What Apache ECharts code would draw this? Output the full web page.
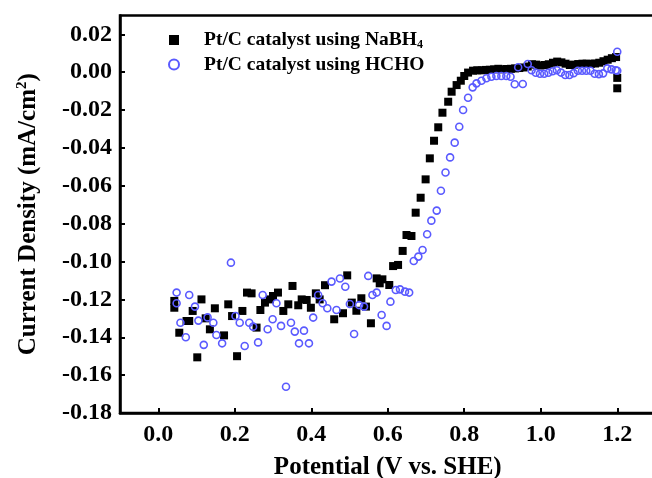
<!DOCTYPE html>
<html><head><meta charset="utf-8">
<script src="https://cdn.jsdelivr.net/npm/echarts@6/dist/echarts.min.js"></script>
<style>html,body{margin:0;padding:0;background:#fff}#c{width:652px;height:478px}</style>
</head><body><div id="c"></div>
<script>
const xTicks = [0, 0.2, 0.4, 0.6, 0.8, 1.0, 1.2];
const yTicks = [-0.18, -0.16, -0.14, -0.12, -0.10, -0.08, -0.06, -0.04, -0.02, 0.00, 0.02];

const xNaBH4 = [0.042,0.042,0.055,0.074,0.081,0.090,0.102,0.113,0.124,0.135,0.148,0.172,0.183,0.193,0.206,0.220,0.232,0.244,0.257,0.267,0.279,0.292,0.300,0.313,0.327,0.340,0.351,0.366,0.375,0.388,0.399,0.412,0.422,0.436,0.460,0.483,0.494,0.506,0.518,0.531,0.543,0.556,0.571,0.579,0.586,0.604,0.614,0.627,0.639,0.649,0.662,0.673,0.686,0.699,0.710,0.721,0.732,0.743,0.758,0.767,0.780,0.791,0.800,0.810,0.823,0.834,0.845,0.856,0.867,0.878,0.889,0.900,0.911,0.922,0.933,0.944,0.955,0.966,0.977,0.988,0.999,1.010,1.021,1.032,1.043,1.054,1.065,1.076,1.087,1.098,1.109,1.120,1.131,1.142,1.153,1.164,1.175,1.186,1.197,1.200,1.200];
const yNaBH4 = [-0.1208,-0.1244,-0.1376,-0.1314,-0.1314,-0.1261,-0.1506,-0.1200,-0.1300,-0.1358,-0.1247,-0.1390,-0.1226,-0.1288,-0.1500,-0.1261,-0.1164,-0.1168,-0.1349,-0.1256,-0.1217,-0.1200,-0.1182,-0.1164,-0.1261,-0.1226,-0.1129,-0.1231,-0.1200,-0.1203,-0.1244,-0.1168,-0.1200,-0.1125,-0.1305,-0.1273,-0.1073,-0.1217,-0.1260,-0.1194,-0.1238,-0.1326,-0.1089,-0.1115,-0.1094,-0.1124,-0.1024,-0.1018,-0.0944,-0.0860,-0.0865,-0.0742,-0.0663,-0.0566,-0.0455,-0.0362,-0.0291,-0.0214,-0.0156,-0.0103,-0.0068,-0.0045,-0.0020,-0.0002,0.0008,0.0010,0.0010,0.0012,0.0013,0.0015,0.0018,0.0015,0.0017,0.0018,0.0020,0.0022,0.0025,0.0030,0.0042,0.0040,0.0035,0.0038,0.0042,0.0050,0.0056,0.0052,0.0045,0.0038,0.0040,0.0043,0.0045,0.0045,0.0044,0.0046,0.0050,0.0058,0.0066,0.0074,0.0080,-0.0030,-0.0085];

const xHCHO = [0.048,0.048,0.058,0.072,0.081,0.096,0.105,0.119,0.129,0.144,0.152,0.167,0.190,0.202,0.213,0.226,0.238,0.248,0.261,0.273,0.286,0.299,0.309,0.321,0.334,0.347,0.357,0.368,0.381,0.394,0.405,0.418,0.430,0.442,0.453,0.466,0.475,0.489,0.501,0.512,0.525,0.538,0.549,0.560,0.571,0.584,0.597,0.607,0.621,0.632,0.645,0.656,0.668,0.680,0.691,0.703,0.714,0.728,0.739,0.751,0.763,0.775,0.787,0.797,0.810,0.822,0.832,0.845,0.858,0.871,0.884,0.897,0.910,0.921,0.932,0.941,0.953,0.966,0.976,0.987,0.998,1.009,1.020,1.031,1.042,1.053,1.064,1.075,1.086,1.097,1.108,1.119,1.130,1.141,1.152,1.163,1.174,1.185,1.196,1.200,1.200];
const yHCHO = [-0.1164,-0.1220,-0.1323,-0.1400,-0.1177,-0.1238,-0.1312,-0.1440,-0.1295,-0.1323,-0.1388,-0.1432,-0.1006,-0.1288,-0.1323,-0.1446,-0.1323,-0.1344,-0.1427,-0.1177,-0.1358,-0.1305,-0.1220,-0.1340,-0.1661,-0.1323,-0.1370,-0.1432,-0.1365,-0.1432,-0.1296,-0.1177,-0.1220,-0.1247,-0.1106,-0.1256,-0.1090,-0.1133,-0.1224,-0.1383,-0.1230,-0.1238,-0.1076,-0.1177,-0.1164,-0.1282,-0.1340,-0.1212,-0.1150,-0.1147,-0.1159,-0.1164,-0.0997,-0.0974,-0.0939,-0.0856,-0.0784,-0.0731,-0.0626,-0.0530,-0.0450,-0.0372,-0.0288,-0.0200,-0.0135,-0.0080,-0.0059,-0.0045,-0.0032,-0.0024,-0.0020,-0.0020,-0.0020,-0.0024,-0.0064,0.0026,-0.0062,0.0043,0.0010,-0.0003,-0.0008,-0.0008,-0.0003,0.0005,0.0010,-0.0002,-0.0015,-0.0015,-0.0005,0.0008,0.0008,0.0008,0.0008,-0.0008,-0.0010,-0.0006,0.0020,0.0015,0.0010,0.0108,0.0008];

function zip(xs, ys) { return xs.map((x, i) => [x, ys[i]]); }

const F = '"Liberation Serif","Times New Roman",serif';
const chart = echarts.init(document.getElementById('c'), null, {renderer: 'canvas'});
chart.setOption({
  animation: false,
  backgroundColor: '#fff',
  grid: {left: 120, top: 15.4, right: -3.5, bottom: 65, show: true, borderColor: '#000', borderWidth: 2.5, outerBoundsMode: 'none', containLabel: false},
  xAxis: {
    type: 'value', min: -0.1, max: 1.3,
    axisLine: {show: true, onZero: false, lineStyle: {color: '#000', width: 2.5}},
    axisTick: {show: true, inside: true, length: 5, lineStyle: {color: '#000', width: 2}, customValues: xTicks},
    axisLabel: {customValues: xTicks, formatter: v => v.toFixed(1), fontFamily: F, fontWeight: 'bold', fontSize: 24, color: '#000', margin: 10},
    splitLine: {show: false},
    name: 'Potential (V vs. SHE)', nameLocation: 'middle', nameGap: 42,
    nameTextStyle: {fontFamily: F, fontWeight: 'bold', fontSize: 25, color: '#000'}
  },
  yAxis: {
    type: 'value', min: -0.18, max: 0.03,
    axisLine: {show: true, onZero: false, lineStyle: {color: '#000', width: 2.5}},
    axisTick: {show: true, inside: true, length: 5, lineStyle: {color: '#000', width: 2}, customValues: yTicks},
    axisLabel: {customValues: yTicks, formatter: v => v.toFixed(2), fontFamily: F, fontWeight: 'bold', fontSize: 24, color: '#000', margin: 8},
    splitLine: {show: false},
    name: '{a|Current Density (mA/cm}{s|2}{a|)}', nameLocation: 'middle', nameGap: 78,
    nameTextStyle: {
      color: '#000',
      rich: {
        a: {fontFamily: F, fontWeight: 'bold', fontSize: 25, color: '#000'},
        s: {fontFamily: F, fontWeight: 'bold', fontSize: 15, color: '#000', padding: [0, 0, 12, 0]}
      }
    }
  },
  legend: {
    left: 163, top: 25, orient: 'vertical', itemWidth: 10, itemHeight: 10, itemGap: 4,
    formatter: n => n === 'NaBH4' ? '{a|Pt/C catalyst using NaBH}{s|4}' : '{a|Pt/C catalyst using HCHO}',
    textStyle: {
      padding: [0, 0, 0, 20],
      rich: {
        a: {fontFamily: F, fontWeight: 'bold', fontSize: 19.5, color: '#000', lineHeight: 21},
        s: {fontFamily: F, fontWeight: 'bold', fontSize: 12, color: '#000', padding: [9, 0, 0, 0]}
      }
    },
    data: [{name: 'NaBH4', icon: 'rect'}, {name: 'HCHO', icon: 'circle'}]
  },
  series: [
    {name: 'NaBH4', type: 'scatter', symbol: 'rect', symbolSize: 8, itemStyle: {color: '#000', opacity: 1}, data: zip(xNaBH4, yNaBH4), z: 2},
    {name: 'HCHO', type: 'scatter', symbol: 'circle', symbolSize: 7, itemStyle: {color: 'rgba(255,255,255,0)', borderColor: '#5a5aff', borderWidth: 1.6, opacity: 1}, data: zip(xHCHO, yHCHO), z: 3}
  ]
});
</script></body></html>
